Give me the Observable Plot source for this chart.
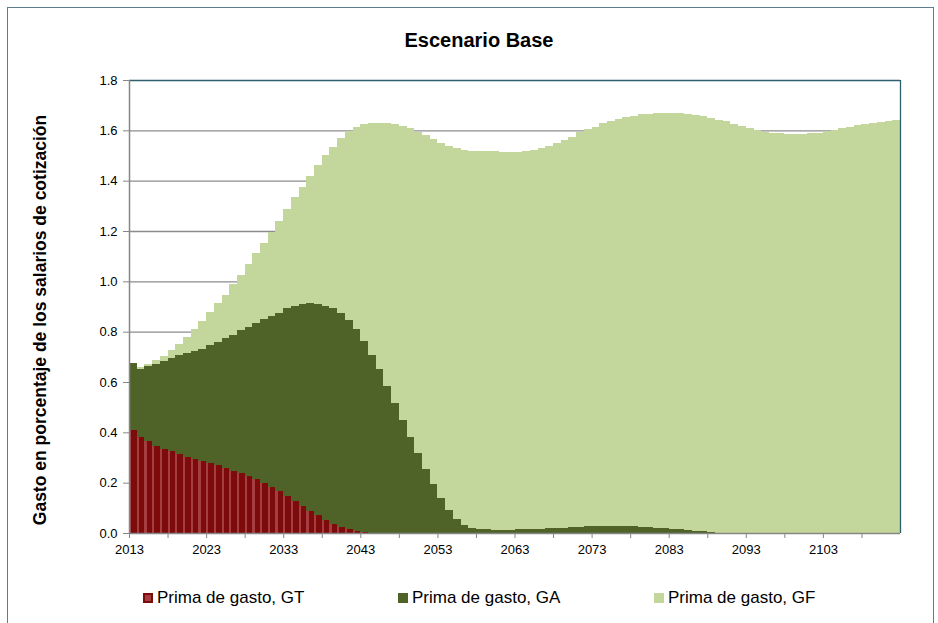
<!DOCTYPE html>
<html><head><meta charset="utf-8">
<script src="https://cdn.jsdelivr.net/npm/d3@7"></script>
<script src="https://cdn.jsdelivr.net/npm/@observablehq/plot@0.6"></script>
<style>
body{margin:0;background:#fff;font-family:"Liberation Sans",Arial,sans-serif;}
#wrap{position:relative;width:938px;height:623px;overflow:hidden;background:#fff;}
#frame{position:absolute;left:7px;top:7px;width:927px;height:660px;border:1px solid #5b7f8c;box-sizing:border-box;}
#title{position:absolute;left:0;width:958px;top:29px;text-align:center;font-weight:bold;font-size:20px;color:#000;}
#ylab{position:absolute;left:40px;top:320px;transform:translate(-50%,-50%) rotate(-90deg);white-space:nowrap;font-weight:bold;font-size:17.5px;color:#000;}
#chart{position:absolute;left:0;top:0;}
.item{position:absolute;top:588px;height:20px;display:flex;align-items:center;font-size:17px;color:#000;white-space:nowrap;}
.sw{width:10px;height:10px;margin-right:4px;box-sizing:border-box;}
</style></head>
<body>
<div id="wrap">
  <div id="frame"></div>
  <div id="title">Escenario Base</div>
  <div id="ylab">Gasto en porcentaje de los salarios de cotización</div>
  <div id="chart"></div>
  <div id="legend"></div>
</div>
<script>
// ---- data ----
const startYear = 2013;
const seriesNames = ["Prima de gasto, GT", "Prima de gasto, GA", "Prima de gasto, GF"];
const seriesColors = ["#7d0b0b", "#4f6228", "#c3d69b"];
// GT (values after the listed years are 0)
const gt = [0.409,0.380,0.364,0.347,0.334,0.326,0.314,0.302,0.295,0.287,
            0.278,0.269,0.257,0.248,0.237,0.226,0.214,0.198,0.183,0.166,
            0.148,0.129,0.109,0.089,0.070,0.052,0.036,0.025,0.016,0.008,
            0.003,0.001];
const ga = [0.265,0.270,0.298,0.325,0.350,0.368,0.392,0.412,0.427,0.444,
            0.469,0.491,0.519,0.540,0.570,0.594,0.622,0.651,0.679,0.709,
            0.745,0.774,0.801,0.824,0.840,0.851,0.857,0.848,0.830,0.801,
            0.760,0.706,0.650,0.584,0.515,0.449,0.383,0.317,0.253,0.194,
            0.140,0.092,0.055,0.032,0.021,0.016,0.014,0.013,0.013,0.013,
            0.014,0.015,0.016,0.017,0.018,0.020,0.021,0.023,0.024,0.026,
            0.027,0.028,0.029,0.029,0.028,0.027,0.025,0.023,0.021,0.019,
            0.017,0.015,0.012,0.009,0.006,0.003,0.001,0,0,0,
            0,0,0,0,0,0,0,0,0,0,
            0,0,0,0,0,0,0,0,0,0];
const gf = [0.000,0.011,0.010,0.016,0.020,0.033,0.045,0.064,0.088,0.113,
            0.132,0.153,0.170,0.201,0.218,0.249,0.275,0.305,0.335,0.365,
            0.393,0.431,0.466,0.506,0.551,0.598,0.642,0.695,0.753,0.805,
            0.862,0.923,0.980,1.044,1.110,1.169,1.225,1.278,1.328,1.372,
            1.411,1.446,1.474,1.490,1.498,1.502,1.503,1.503,1.502,1.502,
            1.501,1.502,1.506,1.513,1.520,1.528,1.539,1.552,1.568,1.578,
            1.588,1.600,1.609,1.617,1.625,1.631,1.638,1.643,1.647,1.650,
            1.652,1.653,1.654,1.652,1.650,1.647,1.641,1.636,1.627,1.618,
            1.608,1.601,1.595,1.591,1.588,1.586,1.585,1.586,1.588,1.591,
            1.598,1.603,1.609,1.614,1.620,1.626,1.629,1.634,1.638,1.643];
const yTicks = [0,0.2,0.4,0.6,0.8,1.0,1.2,1.4,1.6,1.8];
const xLabelYears = [2013,2023,2033,2043,2053,2063,2073,2083,2093,2103];
const xMinorYears = [2018,2028,2038,2048,2058,2068,2078,2088,2098,2108];

// ---- build stacked rows ----
const years = ga.map((_, i) => startYear + i);
const rows = [];
years.forEach((yr, i) => {
  const vals = [gt[i] ?? 0, ga[i], gf[i]];
  let base = 0;
  vals.forEach((v, k) => {
    rows.push({year: yr, series: seriesNames[k], y1: base, y2: base + v, v});
    base += v;
  });
});
const gtRows = rows.filter(d => d.series === seriesNames[0] && d.v > 0);
const greenRows = rows.filter(d => d.series !== seriesNames[0] && d.v > 0);

const chart = Plot.plot({
  width: 938, height: 580,
  marginTop: 80, marginBottom: 47, marginLeft: 129, marginRight: 38,
  x: {type: "linear", domain: [2013, 2113], label: null},
  y: {domain: [0, 1.8], label: null},
  color: {domain: seriesNames, range: seriesColors},
  style: {fontFamily: "Liberation Sans, Arial, sans-serif", color: "#000", background: "transparent", overflow: "visible"},
  marks: [
    Plot.ruleY(yTicks.filter(d => d > 0 && d < 1.8), {stroke: "#8c8c8c", strokeWidth: 1.4}),
    Plot.rect(greenRows, {x1: "year", x2: d => d.year + 1, y1: "y1", y2: "y2", fill: "series", shapeRendering: "crispEdges"}),
    Plot.rect(gtRows, {x1: "year", x2: d => d.year + 1, y1: "y1", y2: "y2", fill: "#a53e40", shapeRendering: "crispEdges"}),
    Plot.rect(gtRows, {x1: "year", x2: d => d.year + 1, y1: "y1", y2: "y2", fill: "series", insetLeft: 2.2, shapeRendering: "crispEdges"}),
    Plot.ruleY([1.8], {stroke: "#2e5f6e", strokeWidth: 1.3}),
    Plot.ruleX([2113], {stroke: "#2e5f6e", strokeWidth: 1.3}),
    Plot.ruleY([0], {stroke: "#868686", strokeWidth: 1.5}),
    Plot.ruleX([2013], {stroke: "#868686", strokeWidth: 1.5}),
    Plot.axisY({ticks: yTicks, tickFormat: d3.format(".1f"), tickSize: 6, tickPadding: 6, stroke: "#868686", fontSize: 13, label: null}),
    Plot.axisX({ticks: xLabelYears, tickFormat: d => String(d), tickSize: 5, tickPadding: 6, stroke: "#868686", fontSize: 13, label: null}),
    Plot.axisX({ticks: xMinorYears, tickFormat: () => "", tickSize: 5, stroke: "#868686", label: null})
  ]
});
document.getElementById("chart").appendChild(chart);

// ---- legend ----
const legendX = [143, 398, 654];
const legend = document.getElementById("legend");
seriesNames.forEach((name, k) => {
  const it = document.createElement("div");
  it.className = "item";
  it.style.left = legendX[k] + "px";
  const sw = document.createElement("div");
  sw.className = "sw";
  sw.style.background = k === 0 ? "#a53e40" : seriesColors[k];
  if (k === 0) sw.style.border = "2px solid " + seriesColors[0];
  it.appendChild(sw);
  const tx = document.createElement("span");
  tx.textContent = name;
  it.appendChild(tx);
  legend.appendChild(it);
});
</script>
</body></html>
